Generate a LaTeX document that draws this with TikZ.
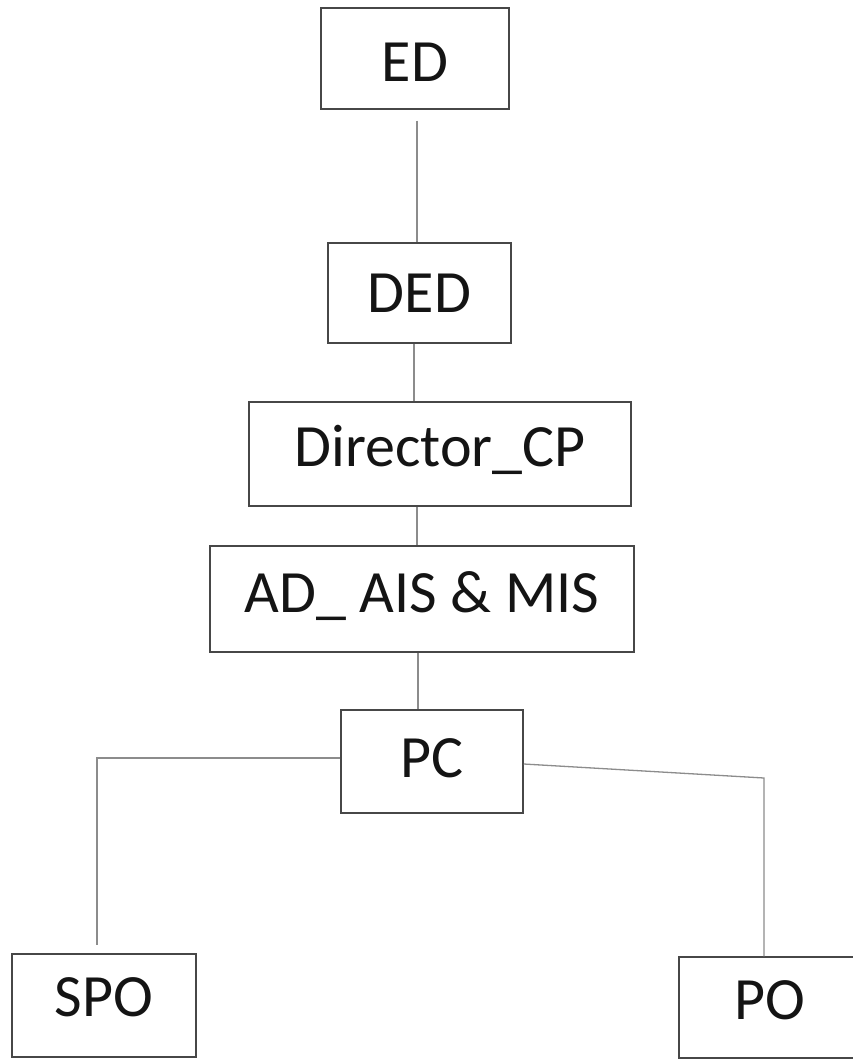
\documentclass[tikz,border=0pt]{standalone}
\usepackage{fontspec}
\setmainfont{Carlito}
\begin{document}
\begin{tikzpicture}[x=1pt,y=-1pt,
  box/.style={draw=black!72,line width=1.5pt,inner sep=0pt,text=black!92,
    font=\fontsize{60}{72}\selectfont,text height=38.6pt,text depth=0pt},
  conn/.style={draw=black!45,line width=1.3pt}]
\useasboundingbox[fill=white] (0,0) rectangle (853,1059);
\node[box,minimum width=188pt,minimum height=101pt,text height=45.6pt] (ED) at (415,58.5) {ED};
\node[box,minimum width=183pt,minimum height=100pt] (DED) at (419.5,293) {DED};
\node[box,minimum width=382pt,minimum height=104pt,text depth=14pt] (DCP) at (440,454) {Director\_CP};
\node[box,minimum width=424pt,minimum height=106pt,text depth=11pt] (AD) at (422,599) {AD\_ AIS \& MIS};
\node[box,minimum width=182pt,minimum height=103pt,text depth=7pt] (PC) at (432,761.5) {PC};
\node[box,minimum width=184pt,minimum height=103pt,text depth=17pt] (SPO) at (104,1005.5) {SPO};
\node[box,minimum width=182pt,minimum height=101pt,text depth=15pt] (PO) at (770,1007.5) {PO};
\coordinate (xa) at (417,0);
\coordinate (xb) at (414,0);
\coordinate (xc) at (418,0);
\coordinate (spoTop) at (97,945);
\coordinate (rc) at (764,778);
\draw[conn] ([yshift=-11pt]ED.south -| xa) -- (DED.north -| xa);
\draw[conn] (DED.south -| xb) -- (DCP.north -| xb);
\draw[conn] (DCP.south -| xa) -- (AD.north -| xa);
\draw[conn] (AD.south -| xc) -- (PC.north -| xc);
\draw[conn] ([yshift=3.5pt]PC.west) -| (spoTop);
\draw[conn] ([yshift=-2.5pt]PC.east) -- (rc) -- (rc |- PO.north);
\end{tikzpicture}
\end{document}
